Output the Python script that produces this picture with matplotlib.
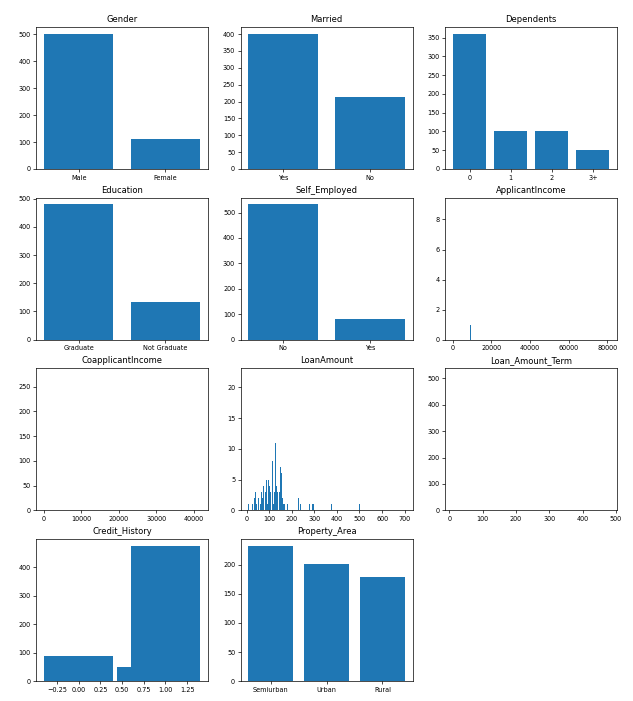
import matplotlib
matplotlib.use("Agg")
import matplotlib.pyplot as plt

plt.rcParams["font.size"] = 4.7
plt.rcParams["axes.titlesize"] = 6.0
plt.rcParams["axes.linewidth"] = 0.5
plt.rcParams["xtick.major.width"] = 0.5
plt.rcParams["ytick.major.width"] = 0.5
plt.rcParams["xtick.major.size"] = 2.0
plt.rcParams["ytick.major.size"] = 2.0
plt.rcParams["xtick.major.pad"] = 2.0
plt.rcParams["ytick.major.pad"] = 2.0
plt.rcParams["axes.titlepad"] = 3.5

# categorical value counts
gender = ["Male", "Female"]
gender_n = [502, 112]
married = ["Yes", "No"]
married_n = [401, 213]
dependents = ["0", "1", "2", "3+"]
dependents_n = [360, 102, 101, 51]
education = ["Graduate", "Not Graduate"]
education_n = [480, 134]
self_emp = ["No", "Yes"]
self_emp_n = [532, 82]
property_area = ["Semiurban", "Urban", "Rural"]
property_area_n = [233, 202, 179]
credit = [1.0, 0.0, 0.8422]
credit_n = [475, 89, 50]

# numeric value counts
app_income_rep = {2500: 9, 4583: 6, 6000: 6, 2600: 6, 3333: 5, 3500: 5, 3750: 5,
                  4166: 5, 5000: 5, 2583: 4, 3166: 4, 3000: 3, 4000: 3, 2400: 3}
app_income_single = [81000, 63337, 51763, 39999, 39147, 37719, 33846, 23803, 20833,
                     20667, 20233, 20166, 19730, 19484, 18333, 18165, 17500, 17263,
                     16692, 16666, 16250, 16120, 15759, 15000, 14999, 14880, 14866,
                     14683, 14583, 13650, 13262, 12876, 12841, 12500, 12000, 11757,
                     11500, 11417, 11250, 11146, 10833, 10750, 10513, 10408, 10047,
                     10000, 9963, 9833, 9703, 9538, 9508, 9504, 9328, 9323, 9167,
                     8750, 8666, 8624, 8566, 8333, 8100, 8080, 8072, 7933, 7901,
                     7660, 7583, 7451, 7441, 7333, 7200, 7167, 7100, 6875, 6822,
                     6608, 6500, 6400, 6333, 6250, 6216, 6133, 6083, 5833, 5800,
                     5746, 5726, 5703, 5667, 5650, 5500, 5417, 5250, 4950, 4923,
                     4887, 4860, 4755, 4750, 4723, 4691, 4680, 4666, 4606, 4566,
                     4547, 4500, 4400, 4333, 4300, 4283, 4260, 4124, 4106, 4095,
                     3948, 3917, 3900, 3833, 3813, 3717, 3667, 3600, 3510, 3466,
                     3418, 3400, 3365, 3316, 3250, 3200, 3167, 3159, 3100, 3086,
                     3073, 3033, 2958, 2947, 2917, 2900, 2882, 2833, 2799, 2750,
                     2717, 2666, 2645, 2625, 2479, 2383, 2333, 2309, 2281, 2253,
                     2237, 2214, 2165, 2149, 2137, 2130, 2083, 2066, 2045, 2031,
                     2014, 2000, 1993, 1977, 1963, 1926, 1916, 1907, 1880, 1875,
                     1853, 1836, 1830, 1828, 1820, 1811, 1809, 1800, 1782, 1668,
                     1625, 1600, 1538, 1500, 1442, 1378, 1299, 1025, 674, 645,
                     416, 210, 150]

coapp_income_rep = {0: 273, 2500: 5, 1666: 5, 2083: 5, 5625: 3, 1750: 3, 2000: 3,
                    1459: 3, 1800: 3, 1500: 3}
coapp_income_single = [41667, 33837, 20000, 11300, 10968, 8980, 7873, 7750, 7250,
                       7210, 7166, 7101, 6666, 6250, 5701, 5654, 5500, 5302, 5266,
                       5105, 5064, 4996, 4750, 4648, 4595, 4490, 4486, 4417, 4416,
                       4343, 4301, 4266, 4250, 4232, 4167, 4114, 4083, 3890, 3850,
                       3800, 3796, 3750, 3667, 3600, 3541, 3500, 3450, 3440, 3430,
                       3416, 3333, 3300, 3274, 3250, 3237, 3230, 3167, 3150, 3136,
                       3066, 3053, 3033, 3021, 3013, 3000, 2985, 2934, 2925, 2917,
                       2900, 2859, 2840, 2816, 2792, 2785, 2773, 2739, 2720, 2669,
                       2667, 2569, 2531, 2524, 2451, 2436, 2426, 2416, 2400, 2383,
                       2375, 2340, 2336, 2333, 2306, 2302, 2250, 2223, 2210, 2167,
                       2160, 2157, 2138, 2134, 2115, 2064, 2042, 2035, 2033, 2004,
                       1987, 1983, 1964, 1950, 1929, 1917, 1915, 1911, 1863, 1843,
                       1840, 1836, 1820, 1813, 1803, 1792, 1779, 1776, 1742, 1733,
                       1717, 1700, 1695, 1667, 1644, 1632, 1625, 1619, 1600, 1587,
                       1560, 1451, 1447, 1430, 1424, 1411, 1375, 1330, 1320, 1300,
                       1287, 1255, 1250, 1230, 1229, 1210, 1167, 1126, 1125, 1103,
                       1083, 1032, 1000, 983, 974, 925, 913, 875, 836, 830, 810,
                       800, 754, 742, 736, 700, 696, 688, 539, 533, 524, 510, 505,
                       484, 461, 456, 438, 242, 240, 189]

loan_amount = [146.41, 120, 110, 100, 160, 187, 113, 128, 130, 96, 95, 70, 112, 115,
               135, 132, 138, 125, 104, 108, 180, 175, 150, 136, 81, 90, 144, 155,
               158, 172, 116, 88, 97, 105, 140, 48, 55, 75, 76, 80, 99, 102, 111,
               118, 126, 133, 154, 185, 40, 50, 60, 66, 72, 84, 94, 101, 103, 106,
               107, 124, 134, 137, 146, 151, 170, 225, 280, 25, 30, 35, 46, 47, 53,
               54, 56, 63, 65, 67, 71, 74, 85, 87, 98, 109, 114, 117, 129, 131, 139,
               141, 142, 143, 159, 165, 176, 188, 200, 210, 230, 253, 255, 275, 600,
               9, 17, 26, 42, 44, 45, 58, 59, 61, 62, 78, 83, 89, 93, 119, 121, 122,
               123, 127, 148, 149, 152, 153, 156, 157, 161, 162, 164, 166, 167, 168,
               173, 181, 182, 191, 194, 196, 201, 205, 209, 211, 214, 216, 228, 236,
               239, 240, 242, 246, 258, 260, 279, 285, 286, 292, 296, 300, 304, 308,
               311, 315, 319, 320, 324, 349, 350, 360, 370, 376, 380, 400, 405, 436,
               480, 490, 495, 496, 500, 570, 650, 700]
loan_amount_n = [22, 20, 17, 15, 12, 12, 11, 11, 10, 9, 9, 8, 8, 8,
                 8, 8, 8, 7, 7, 7, 7, 7, 7, 7, 6, 6, 6, 6,
                 6, 6, 6, 5, 5, 5, 5, 4, 4, 4, 4, 4, 4, 4, 4,
                 4, 4, 4, 4, 4, 3, 3, 3, 3, 3, 3, 3, 3, 3, 3,
                 3, 3, 3, 3, 3, 3, 3, 3, 3, 2, 2, 2, 2, 2, 2,
                 2, 2, 2, 2, 2, 2, 2, 2, 2, 2, 2, 2, 2, 2, 2,
                 2, 2, 2, 2, 2, 2, 2, 2, 2, 2, 2, 2, 2, 2,
                 1, 1, 1, 1, 1, 1, 1, 1, 1, 1, 1, 1, 1, 1, 1, 1, 1,
                 1, 1, 1, 1, 1, 1, 1, 1, 1, 1, 1, 1, 1, 1,
                 1, 1, 1, 1, 1, 1, 1, 1, 1, 1, 1, 1, 1, 1,
                 1, 1, 1, 1, 1, 1, 1, 1, 1, 1, 1, 1, 1, 1,
                 1, 1, 1, 1, 1, 1, 1, 1, 1, 1, 1, 1, 1, 1, 1,
                 1, 1, 1, 1, 1, 1, 1, 1]

loan_term = [360, 180, 480, 342, 300, 84, 240, 120, 60, 36, 12]
loan_term_n = [512, 44, 15, 14, 13, 4, 4, 3, 2, 2, 1]


def counts_from(rep, single):
    vals = list(rep.keys()) + single
    cnts = list(rep.values()) + [1] * len(single)
    order = sorted(range(len(vals)), key=lambda i: -cnts[i])
    return [vals[i] for i in order], [cnts[i] for i in order]


app_income, app_income_n = counts_from(app_income_rep, app_income_single)
coapp_income, coapp_income_n = counts_from(coapp_income_rep, coapp_income_single)

panels = [
    ("Gender", gender, gender_n),
    ("Married", married, married_n),
    ("Dependents", dependents, dependents_n),
    ("Education", education, education_n),
    ("Self_Employed", self_emp, self_emp_n),
    ("ApplicantIncome", app_income, app_income_n),
    ("CoapplicantIncome", coapp_income, coapp_income_n),
    ("LoanAmount", loan_amount, loan_amount_n[:len(loan_amount)]),
    ("Loan_Amount_Term", loan_term, loan_term_n),
    ("Credit_History", credit, credit_n),
    ("Property_Area", property_area, property_area_n),
]

fig = plt.figure(figsize=(6.33, 7.01), dpi=100)
for i, (name, x, y) in enumerate(panels):
    ax = fig.add_subplot(4, 3, i + 1)
    n = min(len(x), len(y))
    ax.bar(x[:n], y[:n], color="#1f77b4")
    ax.set_title(name)

plt.subplots_adjust(left=0.057, right=0.975, top=0.9615, bottom=0.0285,
                    wspace=0.19, hspace=0.202)
plt.savefig("out.png", dpi=100)
